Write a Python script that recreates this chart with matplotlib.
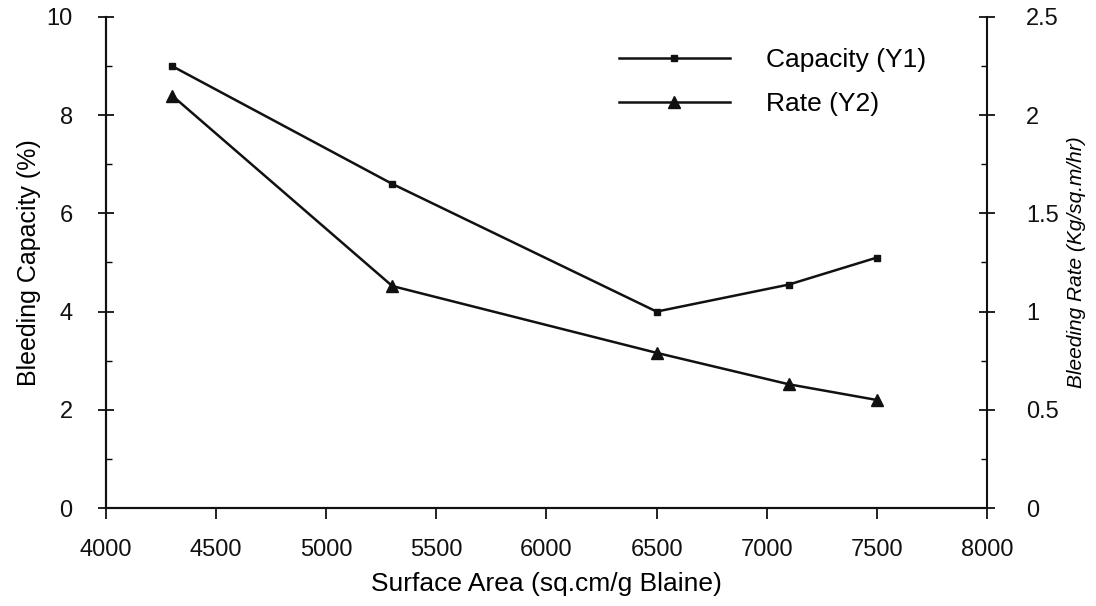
import matplotlib
matplotlib.use("Agg")
import matplotlib.pyplot as plt
from matplotlib.ticker import MultipleLocator

# surface area (sq.cm/g Blaine)
surface_area = [4300, 5300, 6500, 7100, 7500]
capacity = [9.0, 6.6, 4.0, 4.55, 5.1]      # Y1, %
rate = [2.1, 1.13, 0.79, 0.63, 0.55]       # Y2, Kg/sq.m/hr

INK = "#111111"

plt.rcParams.update({
    "font.family": ["Liberation Sans", "DejaVu Sans"],
    "font.size": 17,
})

fig = plt.figure(figsize=(10.96, 6.06), dpi=100)
fig.patch.set_facecolor("white")
ax = fig.add_axes([0.0967, 0.1617, 0.8038, 0.8103])
ax2 = ax.twinx()

l1, = ax.plot(surface_area, capacity, color=INK, lw=1.8, marker="s", markersize=5,
              label="Capacity (Y1)")
l2, = ax2.plot(surface_area, rate, color=INK, lw=1.8, marker="^", markersize=9,
               label="Rate (Y2)")

ax.set_xlim(4000, 8000)
ax.set_ylim(0, 10)
ax2.set_ylim(0, 2.5)
ax.set_xticks(range(4000, 8001, 500))
ax.set_yticks(range(0, 11, 2))
ax.yaxis.set_minor_locator(MultipleLocator(1))
ax2.set_yticks([0, 0.5, 1, 1.5, 2, 2.5])
ax2.set_yticklabels(["0", "0.5", "1", "1.5", "2", "2.5"])
ax2.yaxis.set_minor_locator(MultipleLocator(0.25))

for a in (ax, ax2):
    for s in a.spines.values():
        s.set_linewidth(1.5)
        s.set_color(INK)
    a.spines["top"].set_visible(False)
ax.spines["right"].set_visible(False)

ax.tick_params(axis="y", direction="inout", length=12, width=1.3, pad=18, colors=INK,
               labelsize=17)
ax.tick_params(axis="y", which="minor", direction="in", length=4, width=1.0)
ax.tick_params(axis="x", direction="out", length=8, width=1.3, pad=14, colors=INK,
               labelsize=17)
ax2.tick_params(axis="y", direction="inout", length=12, width=1.3, pad=22, colors=INK,
                labelsize=17)
ax2.tick_params(axis="y", which="minor", direction="in", length=4, width=1.0)

ax.set_xlabel("Surface Area (sq.cm/g Blaine)", fontsize=19, labelpad=8)
ax.set_ylabel("Bleeding Capacity (%)", fontsize=18, labelpad=4)
ax2.set_ylabel("Bleeding Rate (Kg/sq.m/hr)", fontsize=15, style="italic", labelpad=6)

ax.legend(handles=[l1, l2], loc="upper left", bbox_to_anchor=(0.555, 0.985),
          frameon=False, handlelength=4.2, handletextpad=1.4, labelspacing=0.75,
          fontsize=19)

fig.savefig("out.png", dpi=100, facecolor="white")
